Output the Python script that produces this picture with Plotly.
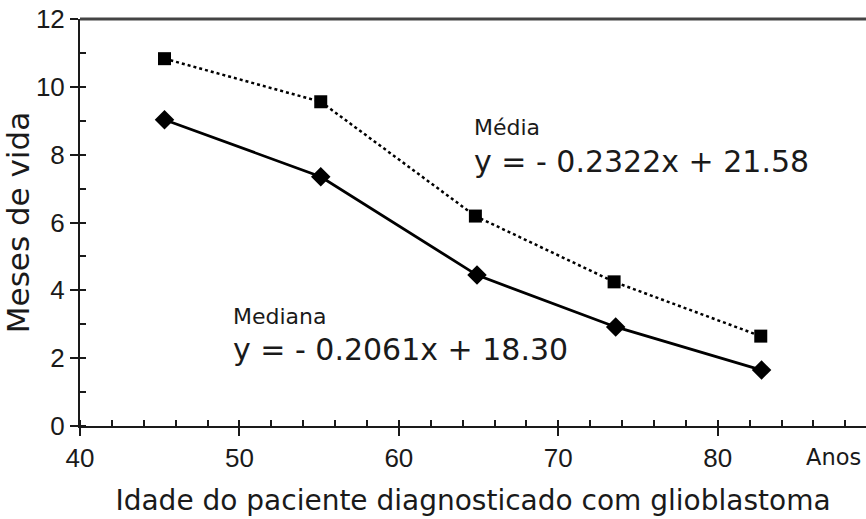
import plotly.graph_objects as go

idade_media = [45.3, 55.1, 64.8, 73.5, 82.7]
meses_media = [10.83, 9.56, 6.19, 4.25, 2.65]
idade_mediana = [45.3, 55.1, 64.9, 73.6, 82.75]
meses_mediana = [9.03, 7.35, 4.45, 2.92, 1.65]
x_ticks = [40, 50, 60, 70, 80]
y_ticks = [0, 2, 4, 6, 8, 10, 12]

TICKFONT = "Liberation Sans, Arial, sans-serif"
TEXTFONT = "DejaVu Sans, sans-serif"
INK = "#1a1a1a"

fig = go.Figure()
fig.add_trace(go.Scatter(
    x=idade_media, y=meses_media, mode="lines+markers",
    line=dict(color="black", width=2.5, dash="dot"),
    marker=dict(symbol="square", size=13, color="black"),
    showlegend=False, cliponaxis=False))
fig.add_trace(go.Scatter(
    x=idade_mediana, y=meses_mediana, mode="lines+markers",
    line=dict(color="black", width=2.8),
    marker=dict(symbol="diamond", size=15, color="black"),
    showlegend=False, cliponaxis=False))

fig.update_layout(
    width=866, height=519,
    margin=dict(l=80, r=0, t=19, b=93),
    plot_bgcolor="white", paper_bgcolor="white",
    font=dict(family=TEXTFONT, color=INK),
    xaxis=dict(range=[40, 89.3], tickvals=x_ticks, ticks="outside", ticklen=8,
               tickwidth=2, tickcolor=INK, linecolor=INK, linewidth=2,
               showgrid=False, zeroline=False, showline=True,
               tickfont=dict(size=26, family=TICKFONT, color=INK),
               minor=dict(dtick=2, ticks="inside", ticklen=6, tickwidth=2, tickcolor=INK),
               title=dict(text="Idade do paciente diagnosticado com glioblastoma",
                          font=dict(size=28, family=TEXTFONT, color=INK), standoff=18)),
    yaxis=dict(range=[0, 12], tickvals=y_ticks, ticks="outside", ticklen=8,
               tickwidth=2, tickcolor=INK, linecolor=INK, linewidth=2,
               showgrid=False, zeroline=False, showline=True, mirror=False,
               tickfont=dict(size=26, family=TICKFONT, color=INK),
               minor=dict(dtick=1, ticks="inside", ticklen=6, tickwidth=2, tickcolor=INK),
               title=dict(text="Meses de vida", font=dict(size=31, family=TEXTFONT, color=INK),
                          standoff=8)),
    shapes=[dict(type="line", xref="paper", yref="paper", x0=0, x1=1, y0=1, y1=1,
                 line=dict(color="#444", width=3))],
    annotations=[
        dict(x=64.6, y=8.81, xref="x", yref="y", text="Média", showarrow=False,
             xanchor="left", font=dict(size=22, family=TEXTFONT, color=INK)),
        dict(x=64.6, y=7.81, xref="x", yref="y", text="y = - 0.2322x + 21.58", showarrow=False,
             xanchor="left", font=dict(size=30, family=TEXTFONT, color=INK)),
        dict(x=49.5, y=3.24, xref="x", yref="y", text="Mediana", showarrow=False,
             xanchor="left", font=dict(size=22, family=TEXTFONT, color=INK)),
        dict(x=49.5, y=2.27, xref="x", yref="y", text="y = - 0.2061x + 18.30", showarrow=False,
             xanchor="left", font=dict(size=30, family=TEXTFONT, color=INK)),
        dict(x=1, y=-0.077, xref="paper", yref="paper", text="Anos", showarrow=False,
             xanchor="right", yanchor="middle", xshift=-3,
             font=dict(size=22.5, family=TEXTFONT, color=INK)),
    ],
)

fig.write_html("out.html")
